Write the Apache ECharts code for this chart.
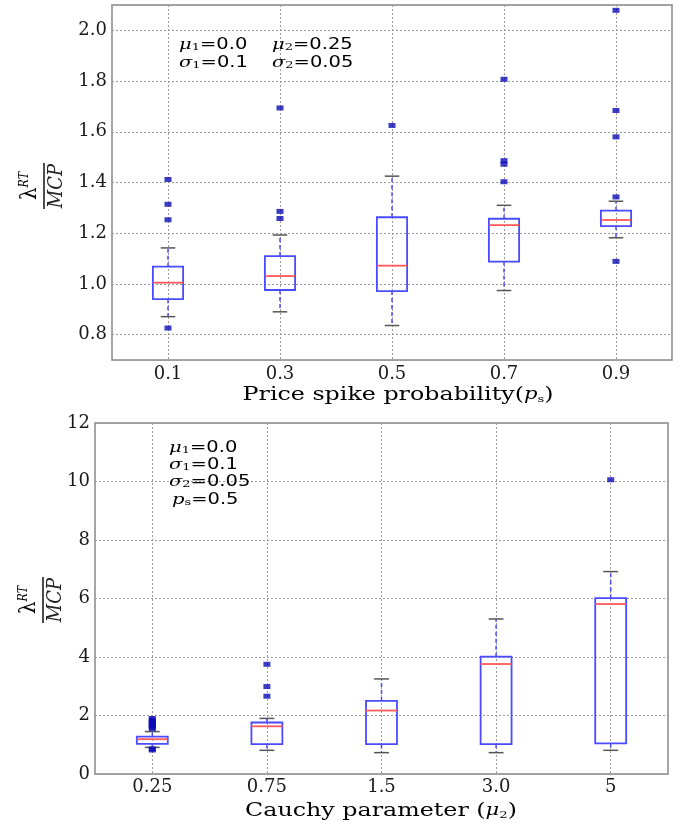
<!DOCTYPE html>
<html><head><meta charset="utf-8">
<script src="https://cdn.jsdelivr.net/npm/echarts@6/dist/echarts.min.js"></script>
<style>html,body{margin:0;padding:0;background:#fff}#c{width:680px;height:827px}</style>
</head><body><div id="c"></div>
<script>
// ---- Top panel data (price spike probability) ----
var topCategories = ['0.1', '0.3', '0.5', '0.7', '0.9'];
var topLow    = [0.871, 0.890, 0.836, 0.974, 1.182];
var topQ1     = [0.940, 0.976, 0.972, 1.088, 1.228];
var topMedian = [1.005, 1.031, 1.072, 1.232, 1.252];
var topQ3     = [1.068, 1.110, 1.263, 1.257, 1.289];
var topHigh   = [1.142, 1.193, 1.425, 1.310, 1.326];
var topOutlierCat = [0, 0, 0, 0, 1, 1, 1, 2, 3, 3, 3, 3, 4, 4, 4, 4, 4];
var topOutlierVal = [1.412, 1.314, 1.253, 0.826, 1.694, 1.286, 1.258, 1.625, 1.807, 1.486, 1.472, 1.403, 2.079, 1.684, 1.580, 1.343, 1.089];
var topYTicks = ['0.8', '1.0', '1.2', '1.4', '1.6', '1.8', '2.0'];

// ---- Bottom panel data (Cauchy parameter) ----
var botCategories = ['0.25', '0.75', '1.5', '3.0', '5'];
var botLow    = [0.91, 0.81, 0.73, 0.73, 0.81];
var botQ1     = [1.03, 1.02, 1.02, 1.02, 1.05];
var botMedian = [1.19, 1.63, 2.17, 3.76, 5.81];
var botQ3     = [1.28, 1.76, 2.50, 4.01, 6.01];
var botHigh   = [1.45, 1.90, 3.25, 5.30, 6.92];
var botOutlierCat = [0, 0, 0, 0, 0, 0, 0, 0, 0, 0, 1, 1, 1, 4];
var botOutlierVal = [1.55, 1.60, 1.65, 1.70, 1.75, 1.80, 1.85, 1.90, 0.82, 0.86, 3.75, 2.99, 2.66, 10.06];

function boxData(low, q1, med, q3, high) {
  return low.map(function (v, i) { return [i, low[i], q1[i], med[i], q3[i], high[i]]; });
}
function outlierData(cats, vals) {
  return cats.map(function (c, i) { return [c, vals[i]]; });
}

var BOX = '#4a4aff', MED = '#ff5a5a', CAP = '#555555', OUT = '#0a0ab8';

function renderBox(params, api) {
  var idx = api.value(0);
  var band = api.size([1, 0])[0];
  var bw = band * 0.27, cw = band * 0.13;
  var pLow = api.coord([idx, api.value(1)]);
  var pQ1 = api.coord([idx, api.value(2)]);
  var pMed = api.coord([idx, api.value(3)]);
  var pQ3 = api.coord([idx, api.value(4)]);
  var pHigh = api.coord([idx, api.value(5)]);
  var x = pQ1[0];
  return {
    type: 'group',
    children: [
      { type: 'line', shape: { x1: x, y1: pQ1[1], x2: x, y2: pLow[1] }, style: { stroke: BOX, lineWidth: 1.5, lineDash: [4, 3] } },
      { type: 'line', shape: { x1: x, y1: pQ3[1], x2: x, y2: pHigh[1] }, style: { stroke: BOX, lineWidth: 1.5, lineDash: [4, 3] } },
      { type: 'line', shape: { x1: x - cw / 2, y1: pLow[1], x2: x + cw / 2, y2: pLow[1] }, style: { stroke: CAP, lineWidth: 1.5 } },
      { type: 'line', shape: { x1: x - cw / 2, y1: pHigh[1], x2: x + cw / 2, y2: pHigh[1] }, style: { stroke: CAP, lineWidth: 1.5 } },
      { type: 'rect', shape: { x: x - bw / 2, y: pQ3[1], width: bw, height: pQ1[1] - pQ3[1] }, style: { fill: 'rgba(255,255,255,0)', stroke: BOX, lineWidth: 1.8 } },
      { type: 'line', shape: { x1: x - bw / 2, y1: pMed[1], x2: x + bw / 2, y2: pMed[1] }, style: { stroke: MED, lineWidth: 1.8 } }
    ]
  };
}

var tickFont = { fontFamily: 'DejaVu Serif', fontSize: 18, color: '#1a1a1a' };
var splitStyle = { show: true, lineStyle: { color: '#9a9a9a', type: [2, 2], width: 1 } };

var chart = echarts.init(document.getElementById('c'));
chart.setOption({
  backgroundColor: '#fff',
  animation: false,
  grid: [
    { left: 112, top: 5, right: 8, height: 355, show: true, borderColor: '#888', borderWidth: 1.5, backgroundColor: 'transparent' },
    { left: 95, top: 423, right: 12, height: 351, show: true, borderColor: '#888', borderWidth: 1.5, backgroundColor: 'transparent' }
  ],
  xAxis: [
    {
      type: 'category', gridIndex: 0, data: topCategories, boundaryGap: true,
      axisLine: { show: false }, axisTick: { show: false },
      axisLabel: Object.assign({ margin: 5 }, tickFont),
      splitLine: Object.assign({ alignWithLabel: true }, splitStyle)
    },
    {
      type: 'category', gridIndex: 1, data: botCategories, boundaryGap: true,
      axisLine: { show: false }, axisTick: { show: false },
      axisLabel: Object.assign({ margin: 4 }, tickFont),
      splitLine: Object.assign({ alignWithLabel: true }, splitStyle)
    }
  ],
  yAxis: [
    {
      type: 'value', gridIndex: 0, min: 0.7, max: 2.1, splitNumber: 7,
      axisLine: { show: false }, axisTick: { show: false },
      axisLabel: Object.assign({
        margin: 5, showMinLabel: false, showMaxLabel: false,
        formatter: function (v) {
          var s = v.toFixed(1);
          return topYTicks.indexOf(s) >= 0 && Math.abs(v * 10 - Math.round(v * 10)) < 1e-6 ? s : '';
        }
      }, tickFont),
      splitLine: splitStyle
    },
    {
      type: 'value', gridIndex: 1, min: 0, max: 12, interval: 2,
      axisLine: { show: false }, axisTick: { show: false },
      axisLabel: Object.assign({ margin: 5 }, tickFont),
      splitLine: splitStyle
    }
  ],
  series: [
    { type: 'custom', xAxisIndex: 0, yAxisIndex: 0, renderItem: renderBox, encode: { x: 0, y: [1, 2, 3, 4, 5] }, data: boxData(topLow, topQ1, topMedian, topQ3, topHigh), z: 3 },
    { type: 'scatter', xAxisIndex: 0, yAxisIndex: 0, symbol: 'rect', symbolSize: [7, 5], itemStyle: { color: OUT }, data: outlierData(topOutlierCat, topOutlierVal), z: 4 },
    { type: 'custom', xAxisIndex: 1, yAxisIndex: 1, renderItem: renderBox, encode: { x: 0, y: [1, 2, 3, 4, 5] }, data: boxData(botLow, botQ1, botMedian, botQ3, botHigh), z: 3 },
    { type: 'scatter', xAxisIndex: 1, yAxisIndex: 1, symbol: 'rect', symbolSize: [7, 5], itemStyle: { color: OUT }, data: outlierData(botOutlierCat, botOutlierVal), z: 4 }
  ]
});

// ---- Text overlays: axis titles, y-axis fraction labels and parameter annotations ----
var annRich = {
  g: { fontFamily: 'DejaVu Serif', fontStyle: 'italic', fontSize: 15, color: '#2a2a2a' },
  s: { fontFamily: 'DejaVu Serif', fontSize: 10, color: '#2a2a2a', verticalAlign: 'bottom' },
  t: { fontFamily: 'DejaVu Sans', fontSize: 15, color: '#2a2a2a' }
};
function ann(x, y, g, s, t) {
  return { type: 'text', x: x, y: y, scaleX: 1.3, style: { text: '{g|' + g + '}{s|' + s + '}{t|' + t + '}', rich: annRich, verticalAlign: 'middle', align: 'left' } };
}
var titleRich = {
  n: { fontFamily: 'DejaVu Serif', fontSize: 18, color: '#1a1a1a' },
  i: { fontFamily: 'DejaVu Serif', fontStyle: 'italic', fontSize: 16, color: '#1a1a1a' },
  sub: { fontFamily: 'DejaVu Serif', fontSize: 10, color: '#1a1a1a', verticalAlign: 'bottom' }
};
function title(x, y, txt) {
  return { type: 'text', x: x, y: y, scaleX: 1.32, style: { text: txt, rich: titleRich, align: 'center', verticalAlign: 'middle' } };
}
function fracLabel(cx, cy) {
  return {
    type: 'group', x: cx, y: cy, rotation: Math.PI / 2, scaleY: 1.15,
    children: [
      { type: 'line', shape: { x1: -23, y1: 0, x2: 23, y2: 0 }, style: { stroke: '#222', lineWidth: 1.4 } },
      { type: 'text', x: 0, y: -2, style: { text: '{l|λ}{u|RT}', align: 'center', verticalAlign: 'bottom',
        rich: { l: { fontFamily: 'DejaVu Serif', fontSize: 20, color: '#222' }, u: { fontFamily: 'DejaVu Serif', fontStyle: 'italic', fontSize: 11, color: '#222', verticalAlign: 'top' } } } },
      { type: 'text', x: 0, y: 2, style: { text: 'MCP', align: 'center', verticalAlign: 'top', fontFamily: 'DejaVu Serif', fontStyle: 'italic', fontSize: 18, fill: '#222' } }
    ]
  };
}
chart.setOption({
  graphic: [
    title(398, 395, '{n|Price spike probability(}{i|p}{sub|s}{n|)}'),
    title(381, 811, '{n|Cauchy parameter (}{i|μ}{sub|2}{n|)}'),
    fracLabel(44, 186),
    fracLabel(43, 600),
    ann(179, 45, 'μ', '1', '=0.0'),
    ann(179, 63, 'σ', '1', '=0.1'),
    ann(272, 45, 'μ', '2', '=0.25'),
    ann(272, 63, 'σ', '2', '=0.05'),
    ann(169, 448, 'μ', '1', '=0.0'),
    ann(169, 465, 'σ', '1', '=0.1'),
    ann(169, 482, 'σ', '2', '=0.05'),
    ann(172, 500, 'p', 's', '=0.5')
  ]
});
</script>
</body></html>
